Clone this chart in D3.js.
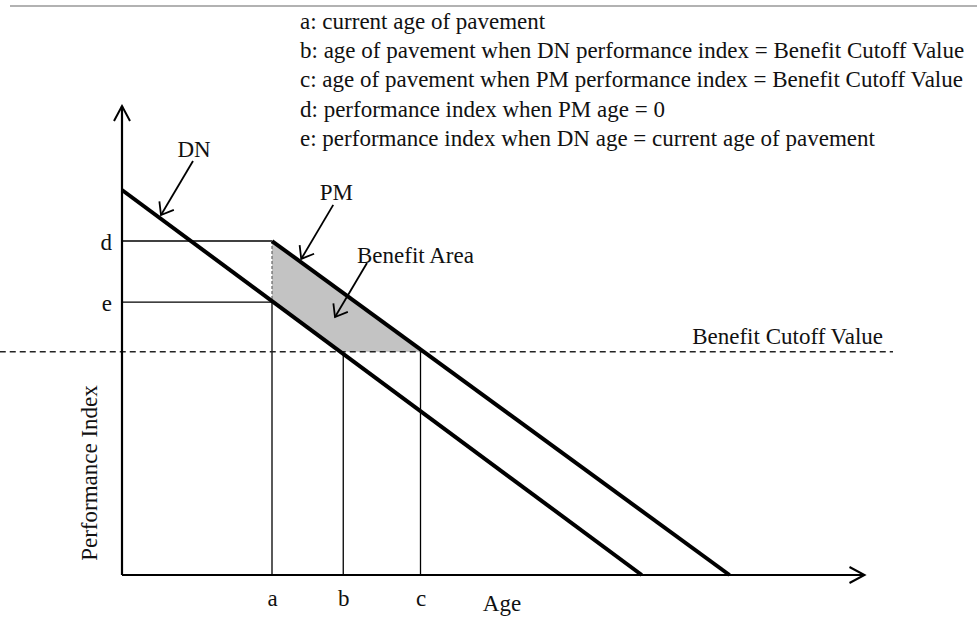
<!DOCTYPE html>
<html>
<head>
<meta charset="utf-8">
<script src="https://cdn.jsdelivr.net/npm/d3@7"></script>
<style>
  body { margin: 0; background: #fff; }
  svg { display: block; font-family: "Liberation Serif", "Times New Roman", serif; }
  text { fill: #111; font-size: 23px; }
</style>
</head>
<body>
<script>
// Values (age in years, performance index 0-100)
var ageLabels = ["a", "b", "c"];
var ageValues = [2, 2.95, 3.98];
var indexLabels = ["d", "e"];
var indexValues = [86.75, 70.9];
var cutoffValue = 58;
var cutoffAgeSpan = [-1.63, 10.28];
var dnAges = [0, 6.93];
var dnIndex = [100, 0];
var pmAges = [2, 8.1];
var pmIndex = [86.75, 0];
var axisMax = [9.9, 121.8];

var legendLines = [
    "a: current age of pavement",
    "b: age of pavement when DN performance index = Benefit Cutoff Value",
    "c: age of pavement when PM performance index = Benefit Cutoff Value",
    "d: performance index when PM age = 0",
    "e: performance index when DN age = current age of pavement"
];

var calloutLabels = ["DN", "PM", "Benefit Area"];
var calloutAges = [0.52, 2.39, 2.84];
var calloutIndex = [93.5, 82.1, 67];

// Canvas
var width = 977, height = 624;

var svg = d3.select("body")
    .append("svg")
    .attr("width", width)
    .attr("height", height);

// Scales
var x = d3.scaleLinear().domain([0, 10]).range([122, 872]);
var y = d3.scaleLinear().domain([0, 100]).range([575, 190]);

// Arrow heads
var defs = svg.append("defs");
defs.append("marker")
    .attr("id", "axisHead")
    .attr("markerUnits", "userSpaceOnUse")
    .attr("viewBox", "-17 -10 19 20")
    .attr("markerWidth", 19)
    .attr("markerHeight", 20)
    .attr("orient", "auto")
    .append("path")
    .attr("d", "M-15,-8L0,0L-15,8")
    .attr("fill", "none")
    .attr("stroke", "#000")
    .attr("stroke-width", 2);

defs.append("marker")
    .attr("id", "calloutHead")
    .attr("markerUnits", "userSpaceOnUse")
    .attr("viewBox", "-13 -10 15 20")
    .attr("markerWidth", 15)
    .attr("markerHeight", 20)
    .attr("orient", "auto")
    .append("path")
    .attr("d", "M-11,-8.4L0,0L-11,8.4")
    .attr("fill", "none")
    .attr("stroke", "#000")
    .attr("stroke-width", 1.8);

// Page rule at the top
svg.append("line")
    .attr("x1", 10).attr("x2", width)
    .attr("y1", 6).attr("y2", 6)
    .style("stroke", "#999")
    .style("stroke-width", 1.5);

var line = d3.line()
    .x(function (d) { return x(d[0]); })
    .y(function (d) { return y(d[1]); });

// Benefit area (between a, b, c and the two curves)
var area = [
    [ageValues[0], indexValues[0]],
    [ageValues[0], indexValues[1]],
    [ageValues[1], cutoffValue],
    [ageValues[2], cutoffValue]
];
svg.append("path")
    .attr("d", line(area) + "Z")
    .style("fill", "#c3c3c3")
    .style("stroke", "none");

// Guide lines for d and e
indexValues.forEach(function (v) {
    svg.append("path")
        .attr("d", line([[0, v], [ageValues[0], v]]))
        .style("stroke", "#000")
        .style("stroke-width", 1.3)
        .style("fill", "none");
});

// Guide lines for a, b, c
svg.append("path")
    .attr("d", line([[ageValues[0], indexValues[0]], [ageValues[0], indexValues[1]]]))
    .style("stroke", "#666")
    .style("stroke-width", 1.2)
    .style("stroke-dasharray", "3,2")
    .style("fill", "none");

svg.append("path")
    .attr("d", line([[ageValues[0], indexValues[1]], [ageValues[0], 0]]))
    .style("stroke", "#000")
    .style("stroke-width", 1.3)
    .style("fill", "none");

ageValues.slice(1).forEach(function (v) {
    svg.append("path")
        .attr("d", line([[v, cutoffValue], [v, 0]]))
        .style("stroke", "#000")
        .style("stroke-width", 1.3)
        .style("fill", "none");
});

// Benefit cutoff value (dashed)
svg.append("path")
    .attr("d", line([[cutoffAgeSpan[0], cutoffValue], [cutoffAgeSpan[1], cutoffValue]]))
    .style("stroke", "#222")
    .style("stroke-width", 1.6)
    .style("stroke-dasharray", "6,4")
    .style("fill", "none");

svg.append("text")
    .attr("x", x(cutoffAgeSpan[1]) - 10)
    .attr("y", y(cutoffValue) - 8)
    .style("text-anchor", "end")
    .text("Benefit Cutoff Value");

// DN and PM curves
svg.append("path")
    .attr("d", line(d3.zip(dnAges, dnIndex)))
    .style("stroke", "#000")
    .style("stroke-width", 4)
    .style("fill", "none");

svg.append("path")
    .attr("d", line(d3.zip(pmAges, pmIndex)))
    .style("stroke", "#000")
    .style("stroke-width", 4)
    .style("fill", "none");

// Axes with arrows
svg.append("path")
    .attr("d", line([[0, 0], [axisMax[0], 0]]))
    .attr("marker-end", "url(#axisHead)")
    .style("stroke", "#000")
    .style("stroke-width", 2.2)
    .style("fill", "none");

svg.append("path")
    .attr("d", line([[0, 0], [0, axisMax[1]]]))
    .attr("marker-end", "url(#axisHead)")
    .style("stroke", "#000")
    .style("stroke-width", 2.2)
    .style("fill", "none");

// Tick labels a, b, c
var xAxis = d3.axisBottom(x)
    .tickValues(ageValues)
    .tickFormat(function (d, i) { return ageLabels[i]; })
    .tickSize(0)
    .tickPadding(15);

var gx = svg.append("g")
    .attr("transform", "translate(0," + y(0) + ")")
    .call(xAxis);
gx.select(".domain").remove();
gx.selectAll("text").attr("fill", null);
gx.attr("font-size", null).attr("font-family", null);

// Tick labels d, e
var yAxis = d3.axisLeft(y)
    .tickValues(indexValues)
    .tickFormat(function (d, i) { return indexLabels[i]; })
    .tickSize(0)
    .tickPadding(10);

var gy = svg.append("g")
    .attr("transform", "translate(" + x(0) + ",0)")
    .call(yAxis);
gy.select(".domain").remove();
gy.selectAll("text")
    .attr("dy", "0.35em")
    .attr("fill", null);
gy.attr("font-size", null).attr("font-family", null);

// Axis titles
svg.append("text")
    .attr("x", 502)
    .attr("y", 611)
    .style("text-anchor", "middle")
    .text("Age");

svg.append("text")
    .attr("transform", "translate(97," + 473 + ") rotate(-90)")
    .style("text-anchor", "middle")
    .text("Performance Index");

// Callouts
var labelPos = [
    { dx: 1, dy: -4, anchor: "middle" },
    { dx: 3, dy: -5, anchor: "middle" },
    { dx: -10, dy: 0, anchor: "start" }
];

calloutLabels.forEach(function (label, i) {
    var tx = x(calloutAges[i]), ty = y(calloutIndex[i]);
    var sx = tx + 32, sy = ty - 54;
    svg.append("line")
        .attr("x1", sx).attr("y1", sy)
        .attr("x2", tx).attr("y2", ty)
        .attr("marker-end", "url(#calloutHead)")
        .style("stroke", "#000")
        .style("stroke-width", 1.8);
    svg.append("text")
        .attr("x", sx + labelPos[i].dx)
        .attr("y", sy + labelPos[i].dy)
        .style("text-anchor", labelPos[i].anchor)
        .text(label);
});

// Legend block
svg.selectAll("legendlines")
    .data(legendLines)
    .enter()
    .append("text")
    .attr("x", 300)
    .attr("y", function (d, i) { return 29 + i * 29.2; })
    .text(function (d) { return d; });
</script>
</body>
</html>
